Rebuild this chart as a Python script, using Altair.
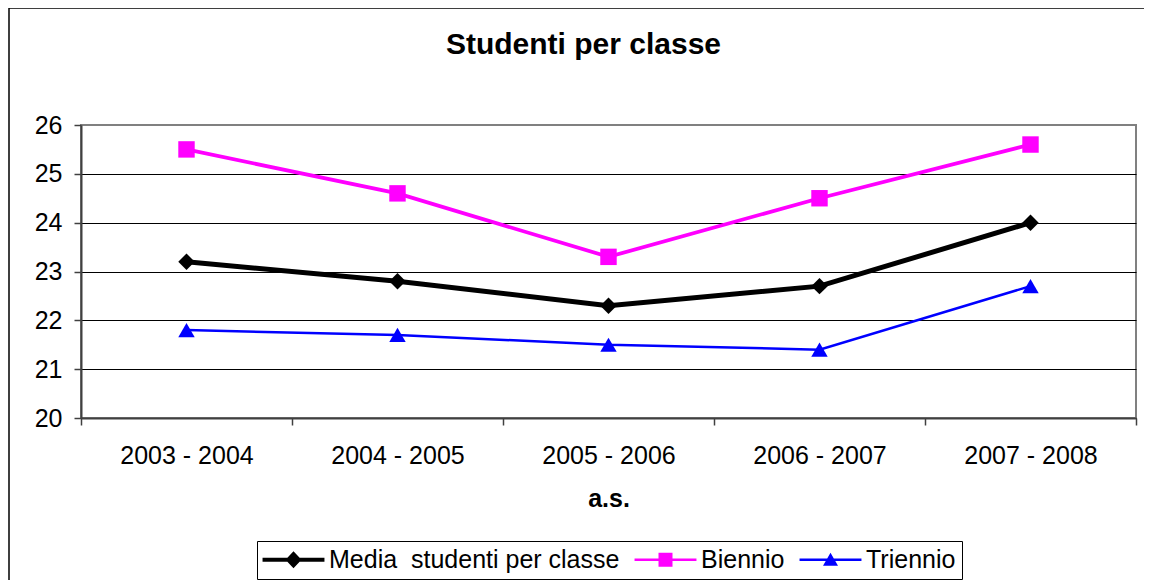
import altair as alt
import pandas as pd

# ---- data ----
anni = ["2003 - 2004", "2004 - 2005", "2005 - 2006", "2006 - 2007", "2007 - 2008"]
serie = ["Media\u00a0 studenti per classe", "Biennio", "Triennio"]
media = [23.2, 22.8, 22.3, 22.7, 24.0]
biennio = [25.5, 24.6, 23.3, 24.5, 25.6]
triennio = [21.8, 21.7, 21.5, 21.4, 22.7]
y_ticks = [20, 21, 22, 23, 24, 25, 26]
titolo = "Studenti per classe"
titolo_x = "a.s."

# ---- styles ----
colori = ["#000000", "#FF00FF", "#0000FF"]
forme = ["diamond", "square", "triangle-up"]
spessori = [5, 2.5, 2.5]
# legend symbols: line segment + marker (units of sqrt(symbolSize)/2 = 12px)
forme_legenda = [
    "M-2.58,-0.167H2.58V0.167H-2.58Z M0,-0.708L0.667,0L0,0.708L-0.667,0Z",
    "M-2.58,-0.104H2.58V0.104H-2.58Z M-0.583,-0.583H0.583V0.583H-0.583Z",
    "M-2.58,-0.104H2.58V0.104H-2.58Z M0,-0.583L0.625,0.5H-0.625Z",
]
FONT = "Liberation Sans, Arial, sans-serif"

rows = []
for s, vals in zip(serie, [media, biennio, triennio]):
    for a, v in zip(anni, vals):
        rows.append({"anno": a, "serie": s, "valore": v})
df = pd.DataFrame(rows)

x_enc = alt.X(
    "anno:N",
    sort=anni,
    scale=alt.Scale(type="band", domain=anni, paddingInner=0, paddingOuter=0),
    axis=alt.Axis(
        title=titolo_x,
        titleFont=FONT,
        titleFontSize=25,
        titleFontWeight="bold",
        titleColor="black",
        titlePadding=18,
        labelFont=FONT,
        labelFontSize=25,
        labelColor="black",
        labelAngle=0,
        labelPadding=18,
        tickBand="extent",
        tickSize=7,
        tickColor="#404040",
        tickWidth=1.5,
        domainColor="#404040",
        domainWidth=2,
        grid=False,
    ),
)
y_enc = alt.Y(
    "valore:Q",
    scale=alt.Scale(domain=[20, 26], nice=False, zero=False),
    axis=alt.Axis(
        title=None,
        values=y_ticks,
        labelFont=FONT,
        labelFontSize=25,
        labelColor="black",
        labelPadding=12,
        tickSize=7,
        tickColor="#404040",
        tickWidth=1.5,
        domainColor="#404040",
        domainWidth=2,
        grid=True,
        gridColor={"condition": {"test": "datum.value === 26", "value": "#808080"}, "value": "black"},
        gridWidth=1,
    ),
)

base = alt.Chart(df)

linee = base.mark_line().encode(
    x=x_enc,
    y=y_enc,
    color=alt.Color("serie:N", scale=alt.Scale(domain=serie, range=colori), legend=None),
    strokeWidth=alt.StrokeWidth("serie:N", scale=alt.Scale(domain=serie, range=spessori), legend=None),
    detail="serie:N",
)

punti = base.mark_point(filled=True, opacity=1, size=270, strokeWidth=0).encode(
    x=x_enc,
    y=y_enc,
    color=alt.Color("serie:N", scale=alt.Scale(domain=serie, range=colori), legend=None),
    shape=alt.Shape("serie:N", scale=alt.Scale(domain=serie, range=forme), legend=None),
)

legenda_props = dict(
    orient="none",
    legendX=176,
    legendY=416,
    direction="horizontal",
    title=None,
    symbolSize=576,
    symbolStrokeWidth=0,
    symbolOffset=18,
    labelOffset=23,
    labelFont=FONT,
    labelFontSize=25,
    labelColor="black",
    labelLimit=600,
    columnPadding=14,
    padding=6,
    strokeColor="black",
    fillColor="white",
)

legenda = base.mark_point(filled=True, opacity=1, size=260, strokeWidth=0).encode(
    x=x_enc,
    y=y_enc,
    color=alt.Color("serie:N", scale=alt.Scale(domain=serie, range=colori),
                    legend=alt.Legend(**legenda_props)),
    shape=alt.Shape("serie:N", scale=alt.Scale(domain=serie, range=forme_legenda),
                    legend=alt.Legend(**legenda_props)),
).transform_filter("false")

bordo = alt.Chart(alt.Data(values=[{}])).mark_rect(
    fillOpacity=0, stroke="black", strokeWidth=1.5
).encode(
    x=alt.value(-72), x2=alt.value(1200), y=alt.value(-117), y2=alt.value(700)
)

titolo_mark = alt.Chart(alt.Data(values=[{}])).mark_text(
    text=titolo,
    font=FONT,
    fontSize=30,
    fontWeight="bold",
    color="black",
    align="center",
    baseline="alphabetic",
).encode(x=alt.value(502.5), y=alt.value(-71.5))

chart = (
    alt.layer(bordo, linee, punti, legenda, titolo_mark)
    .resolve_scale(color="independent", shape="independent")
    .properties(
        width=1055,
        height=293,
        autosize=alt.AutoSizeParams(type="none"),
        padding={"left": 73, "top": 117, "right": 8, "bottom": 162},
        background="white",
    )
    .configure_view(stroke="#808080", strokeWidth=2)
)

chart.save("out.html", embed_options={"renderer": "svg", "actions": False})
